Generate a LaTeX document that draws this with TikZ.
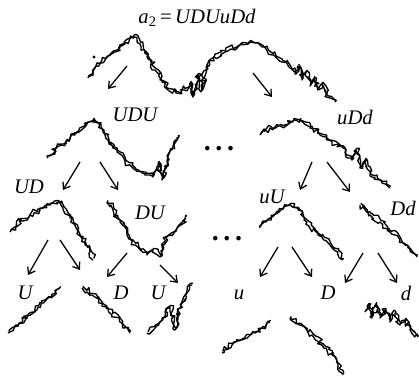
\documentclass[tikz,border=0pt]{standalone}
\usepackage{fontspec}
\setmainfont{Liberation Serif}
\usetikzlibrary{decorations.pathmorphing,arrows.meta}
\begin{document}
\begin{tikzpicture}[x=0.75pt,y=-0.75pt,
 trace/.style={line width=1pt, line join=round, decorate, decoration={random steps, segment length=2.2pt, amplitude=2.1pt}},
 arr/.style={line width=0.95pt, -{Straight Barb[length=4.5pt,width=6.5pt]}},
 lab/.style={font=\fontsize{15.5}{18}\selectfont\itshape, inner sep=0pt},
 dotsty/.style={font=\fontsize{21}{21}\selectfont\bfseries, inner sep=0pt}]
\useasboundingbox (0,0) rectangle (419,378);
\pgfmathsetseed{7}
\newcommand\twotrace[1]{\draw[trace] plot[sharp plot] coordinates {#1};\draw[trace,xshift=0.6pt,yshift=1.2pt] plot[sharp plot] coordinates {#1};}
% curves
\twotrace{(88,78) (95,68) (105,60) (115,52) (125,44) (133,37) (140,44) (147,57) (155,70) (162,82) (168,90) (176,93) (184,90) (190,83) (193,97) (198,75) (201,92) (206,67) (214,57) (225,52) (238,47) (250,42) (262,47) (272,55) (282,62) (290,68) (295,74) (298,66) (302,80) (306,72) (310,86) (314,78) (318,90) (322,84) (326,95) (335,102)}
\fill (94,57) circle (1.7);
\twotrace{(48,158) (55,150) (65,143) (75,135) (85,127) (93,120) (100,125) (108,140) (117,152) (125,162) (135,170) (145,175) (153,177) (158,163) (162,180) (167,160) (172,150) (177,137)}
\twotrace{(260,135) (270,128) (280,126) (290,123) (300,120) (310,127) (320,135) (332,142) (345,152) (352,160) (356,150) (360,168) (365,160) (370,176) (375,177) (382,183) (390,188)}
\twotrace{(10,232) (20,222) (30,215) (40,210) (50,205) (57,202) (63,208) (70,218) (78,230) (85,245) (90,252) (93,260)}
\twotrace{(107,202) (113,210) (120,222) (127,235) (135,245) (147,255) (153,250) (160,257) (165,240) (170,235) (177,228) (186,218)}
\twotrace{(260,228) (268,220) (278,213) (290,205) (298,210) (307,222) (318,235) (330,245) (338,252) (343,260)}
\twotrace{(360,205) (370,215) (380,222) (390,232) (400,240) (408,248) (417,257)}
\twotrace{(8,333) (18,325) (28,315) (38,307) (48,298) (60,288)}
\twotrace{(82,288) (92,295) (102,305) (112,315) (122,323) (130,333)}
\twotrace{(147,333) (155,328) (162,320) (170,307) (175,330) (180,308) (185,295) (192,285)}
\twotrace{(222,353) (232,345) (242,340) (252,333) (262,328) (270,322)}
\twotrace{(290,318) (300,325) (312,335) (322,345) (332,355) (338,365) (343,375)}
\twotrace{(365,312) (368,305) (372,318) (376,304) (380,318) (385,310) (390,322) (395,313) (400,325) (405,320) (410,330) (418,337)}
% labels
\node[lab] (title) at (197,18) {a\textsubscript{\upshape 2}\,\upshape =\,\itshape UDUuDd};
\node[lab] (udu) at (135,115) {UDU};
\node[lab] (udd) at (355,117) {uDd};
\node[lab] (ud) at (29,187) {UD};
\node[lab] (du) at (150,213) {DU};
\node[lab] (uu) at (272,197) {uU};
\node[lab] (dd) at (403,208) {Dd};
\node[lab] (u1) at (25,293) {U};
\node[lab] (d1) at (121,293) {D};
\node[lab] (u2) at (158,293) {U};
\node[lab] (u3) at (239,295) {u};
\node[lab] (d2) at (328,293) {D};
\node[lab] (d3) at (406,293) {d};
\node[dotsty] (dots1) at (219,149) {.\,.\,.};
\node[dotsty] (dots2) at (227,239) {.\,.\,.};
% arrow ends
\coordinate (a1s) at (127,66); \coordinate (a1e) at (108,89);
\coordinate (a2s) at (253,73); \coordinate (a2e) at (272,97);
\coordinate (b1s) at (80,162); \coordinate (b1e) at (63,190);
\coordinate (b2s) at (100,162); \coordinate (b2e) at (118,190);
\coordinate (b3s) at (312,162); \coordinate (b3e) at (300,190);
\coordinate (b4s) at (327,162); \coordinate (b4e) at (350,192);
\coordinate (c1s) at (48,240); \coordinate (c1e) at (28,275);
\coordinate (c2s) at (60,240); \coordinate (c2e) at (80,270);
\coordinate (c3s) at (127,253); \coordinate (c3e) at (107,277);
\coordinate (c4s) at (160,265); \coordinate (c4e) at (178,283);
\coordinate (c5s) at (278,247); \coordinate (c5e) at (260,277);
\coordinate (c6s) at (292,247); \coordinate (c6e) at (312,277);
\coordinate (c7s) at (363,253); \coordinate (c7e) at (345,283);
\coordinate (c8s) at (378,253); \coordinate (c8e) at (397,283);
\foreach \a in {a1,a2,b1,b2,b3,b4,c1,c2,c3,c4,c5,c6,c7,c8}
  \draw[arr] (\a s) -- (\a e);
\end{tikzpicture}
\end{document}
